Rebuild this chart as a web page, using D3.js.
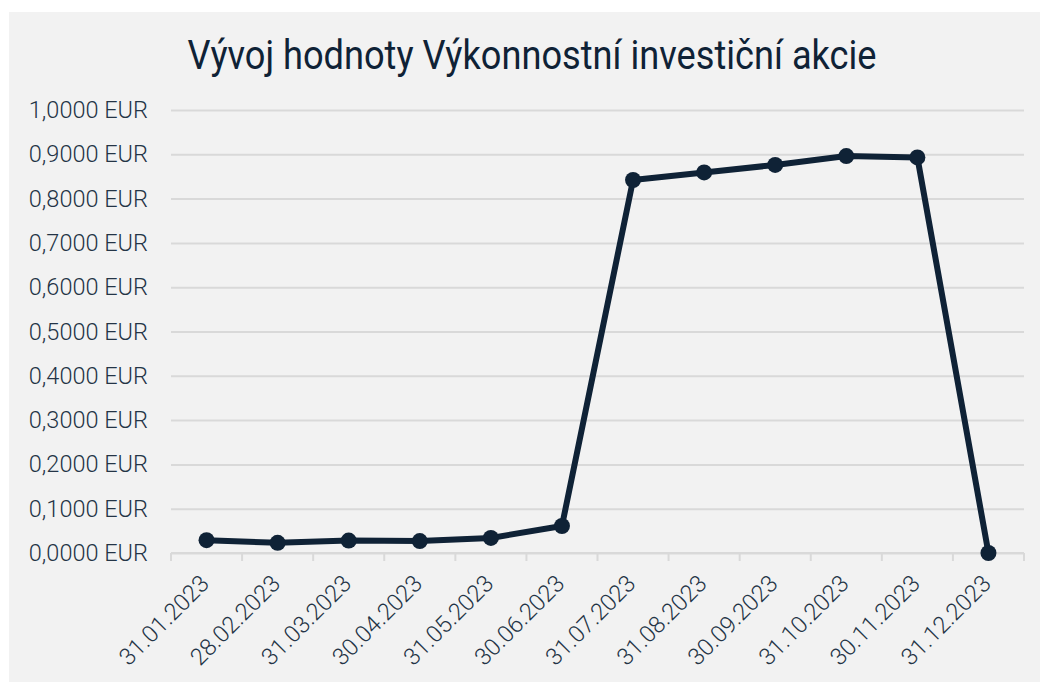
<!DOCTYPE html>
<html>
<head>
<meta charset="utf-8">
<script src="https://cdn.jsdelivr.net/npm/d3@7"></script>
<style>
  body { margin: 0; background: #fff; }
  svg text { font-family: Roboto, sans-serif; }
</style>
</head>
<body>
<div id="chart"></div>
<script>
const dates = ['31.01.2023', '28.02.2023', '31.03.2023', '30.04.2023', '31.05.2023', '30.06.2023',
  '31.07.2023', '31.08.2023', '30.09.2023', '31.10.2023', '30.11.2023', '31.12.2023']
const values = [0.029, 0.023, 0.028, 0.027, 0.034, 0.061, 0.842, 0.859, 0.876, 0.896, 0.893, 0.0]
const yTicks = [0, 0.1, 0.2, 0.3, 0.4, 0.5, 0.6, 0.7, 0.8, 0.9, 1.0]
const title = 'Vývoj hodnoty Výkonnostní investiční akcie'

const width = 1040
const height = 682
const margin = { top: 110, right: 16, bottom: 129, left: 171 }
const ink = '#0f2236'
const textColor = '#243446'

const svg = d3.select('#chart')
  .append('svg')
  .attr('width', width)
  .attr('height', height)

svg.append('rect')
  .attr('x', 9).attr('y', 12)
  .attr('width', width - 9).attr('height', height - 12)
  .attr('fill', '#f2f2f2')

svg.append('text')
  .attr('transform', 'translate(532,69) scale(0.905,1)')
  .attr('text-anchor', 'middle')
  .attr('font-size', 40)
  .attr('fill', ink)
  .text(title)

const x = d3.scaleBand().domain(dates).range([margin.left, width - margin.right])
const y = d3.scaleLinear().domain([0, 1]).range([height - margin.bottom, margin.top])

const fmt = (v) => d3.format('.4f')(v).replace('.', ',') + ' EUR'

// gridlines + y labels
const yAxis = svg.append('g')
  .attr('transform', `translate(${margin.left},0)`)
  .call(d3.axisLeft(y).tickValues(yTicks).tickFormat(fmt)
    .tickSize(-(width - margin.left - margin.right)).tickPadding(23))
yAxis.select('.domain').remove()
yAxis.selectAll('.tick line').attr('stroke', '#d9d9d9').attr('stroke-width', 2)
yAxis.selectAll('.tick text')
  .attr('font-size', 23.5).attr('font-weight', 300).attr('fill', textColor)

// x axis
const xAxis = svg.append('g')
  .attr('transform', `translate(0,${height - margin.bottom})`)
  .call(d3.axisBottom(x).tickSize(0).tickPadding(0))
xAxis.select('.domain').remove()
xAxis.append('line')
  .attr('x1', margin.left).attr('x2', width - margin.right)
  .attr('stroke', '#d9d9d9').attr('stroke-width', 2)
xAxis.selectAll('.bound')
  .data(dates.map((d) => x(d)).concat([x(dates[dates.length - 1]) + x.bandwidth()]))
  .enter()
  .append('line')
  .attr('x1', (d) => d).attr('x2', (d) => d)
  .attr('y1', 0).attr('y2', 8)
  .attr('stroke', '#d9d9d9').attr('stroke-width', 2)
xAxis.selectAll('.tick text')
  .attr('font-size', 23.5).attr('font-weight', 300).attr('fill', textColor)
  .attr('text-anchor', 'end')
  .attr('dy', 0)
  .attr('transform', 'translate(4,32) rotate(-45)')

const cx = (d) => x(d) + x.bandwidth() / 2
const series = dates.map((d, i) => [d, values[i]])

svg.append('path')
  .datum(series)
  .attr('fill', 'none')
  .attr('stroke', ink)
  .attr('stroke-width', 6)
  .attr('stroke-linejoin', 'round')
  .attr('d', d3.line().x((d) => cx(d[0])).y((d) => y(d[1])))

svg.selectAll('.dot')
  .data(series)
  .enter()
  .append('circle')
  .attr('class', 'dot')
  .attr('cx', (d) => cx(d[0]))
  .attr('cy', (d) => y(d[1]))
  .attr('r', 8)
  .attr('fill', ink)
</script>
</body>
</html>
